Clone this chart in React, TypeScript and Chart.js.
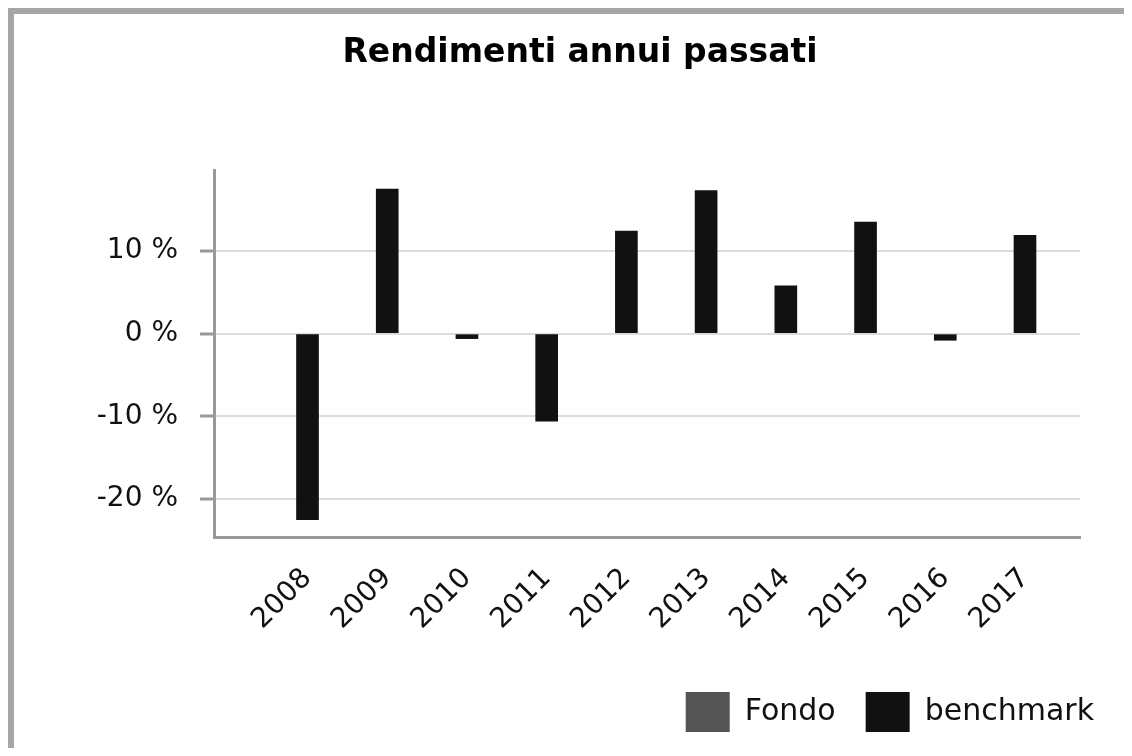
import React, { useEffect, useRef } from 'react';
import { Chart, registerables } from 'chart.js';

Chart.register(...registerables);

const chartTitle = 'Rendimenti annui passati';
const years = [2008, 2009, 2010, 2011, 2012, 2013, 2014, 2015, 2016, 2017];
const seriesNames = ['Fondo', 'benchmark'];
const fondo: (number | null)[] = [null, null, null, null, null, null, null, null, null, null];
const benchmark = [-22.5, 17.5, -0.6, -10.6, 12.4, 17.3, 5.8, 13.5, -0.8, 11.9];
const yTickValues = [-20, -10, 0, 10];

const FONT = 'DejaVu Sans';

export default function App() {
  const canvasRef = useRef<HTMLCanvasElement | null>(null);

  useEffect(() => {
    if (!canvasRef.current) return;
    Chart.defaults.font.family = FONT;
    const chart = new Chart(canvasRef.current, {
      type: 'bar',
      data: {
        labels: years,
        datasets: [
          {
            label: seriesNames[0],
            data: fondo,
            backgroundColor: '#555555',
            borderWidth: 0,
            barThickness: 22,
            grouped: false,
          },
          {
            label: seriesNames[1],
            data: benchmark,
            backgroundColor: '#111111',
            borderWidth: 0,
            barThickness: 22,
            grouped: false,
          },
        ],
      },
      options: {
        animation: false,
        responsive: true,
        maintainAspectRatio: false,
        layout: { padding: { left: 22, right: 0, top: 0, bottom: 0 } },
        plugins: {
          title: {
            display: true,
            text: chartTitle,
            color: '#000',
            font: { family: FONT, size: 33, weight: 'bold' },
            padding: { top: 20, bottom: 96.4 },
          },
          legend: {
            position: 'bottom',
            align: 'end',
            labels: {
              boxWidth: 44,
              boxHeight: 40,
              padding: 30,
              color: '#111',
              font: { family: FONT, size: 30 },
            },
          },
          tooltip: { enabled: false },
        },
        scales: {
          x: {
            type: 'linear',
            offset: false,
            min: 2006.827,
            max: 2017.69,
            grid: { display: false, drawTicks: false, offset: false },
            border: { display: true, color: '#999', width: 3 },
            afterBuildTicks: (axis: any) => {
              axis.ticks = years.map((v) => ({ value: v }));
            },
            afterFit: (axis: any) => {
              axis.height = 125;
            },
            ticks: {
              autoSkip: false,
              minRotation: 45,
              maxRotation: 45,
              padding: 25,
              color: '#111',
              font: { family: FONT, size: 28 },
              callback: (v: any) => String(v),
            },
          },
          y: {
            type: 'linear',
            min: -24.6,
            max: 19.8,
            afterBuildTicks: (axis: any) => {
              axis.ticks = yTickValues.map((v) => ({ value: v }));
            },
            afterFit: (axis: any) => {
              axis.width = 178;
            },
            grid: {
              color: '#dcdcdc',
              lineWidth: 2,
              drawTicks: true,
              tickLength: 14,
              tickColor: '#999',
              tickWidth: 3,
            },
            border: { display: true, color: '#999', width: 3 },
            ticks: {
              padding: 22,
              color: '#111',
              font: { family: FONT, size: 28 },
              callback: (v: any) => v + ' %',
            },
          },
          yRight: {
            type: 'linear',
            position: 'right',
            display: true,
            grid: { display: false, drawTicks: false },
            border: { display: false },
            ticks: { display: false },
            afterFit: (axis: any) => {
              axis.width = 44;
            },
          },
        },
      } as any,
    });
    return () => chart.destroy();
  }, []);

  return (
    <div
      style={{
        borderTop: '6px solid #a6a6a6',
        borderLeft: '6px solid #a6a6a6',
        height: 734,
        width: 'calc(100% + 8px)',
        overflow: 'hidden',
        background: '#fff',
      }}
    >
      <div style={{ position: 'relative', width: 1110, height: 728 }}>
        <canvas ref={canvasRef} />
      </div>
    </div>
  );
}
